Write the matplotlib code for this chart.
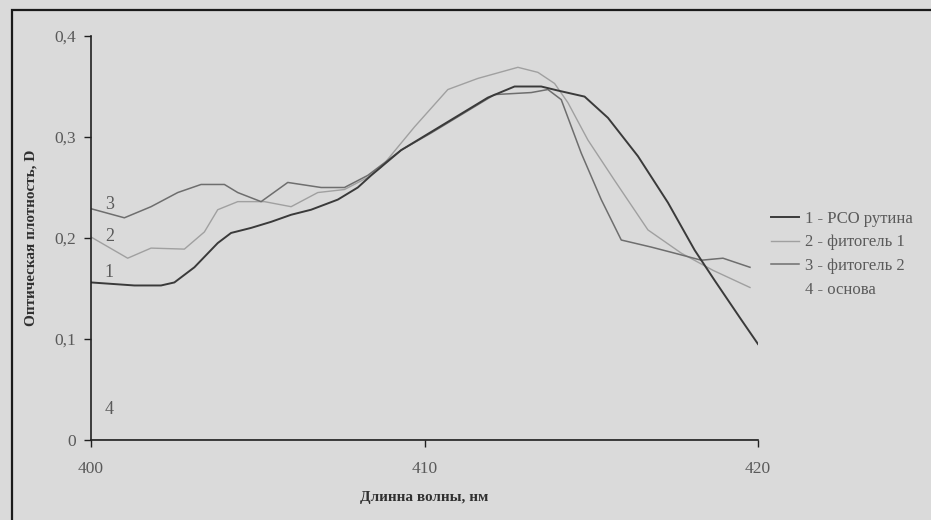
import matplotlib
matplotlib.use("Agg")
import matplotlib.pyplot as plt
from matplotlib.lines import Line2D
from matplotlib.patches import Rectangle

# ---- data ----
wl_1 = [400.0, 401.3, 402.1, 402.5, 403.1, 403.8, 404.2, 404.8, 405.4, 406.0, 406.6,
        407.4, 408.0, 408.4, 409.3, 410.2, 411.9, 412.7, 413.5, 414.0, 414.8, 415.5,
        416.4, 417.3, 418.1, 418.7, 419.5, 420.0]
d_1 = [0.156, 0.153, 0.153, 0.156, 0.171, 0.195, 0.205, 0.210, 0.216, 0.223, 0.228,
       0.238, 0.250, 0.262, 0.287, 0.305, 0.339, 0.350, 0.350, 0.346, 0.340, 0.319,
       0.281, 0.235, 0.188, 0.158, 0.119, 0.095]

wl_2 = [400.0, 401.1, 401.8, 402.8, 403.4, 403.8, 404.4, 405.2, 406.0, 406.8, 407.6,
        408.3, 408.7, 409.7, 410.7, 411.6, 412.8, 413.4, 413.9, 414.3, 414.9, 415.7,
        416.7, 417.7, 418.65, 419.76]
d_2 = [0.201, 0.180, 0.190, 0.189, 0.206, 0.228, 0.236, 0.236, 0.231, 0.245, 0.248,
       0.260, 0.270, 0.310, 0.347, 0.358, 0.369, 0.364, 0.353, 0.334, 0.297, 0.257,
       0.208, 0.185, 0.168, 0.151]

wl_3 = [400.0, 401.0, 401.8, 402.6, 403.3, 404.0, 404.4, 405.1, 405.9, 406.9, 407.6,
        408.3, 409.3, 410.2, 411.2, 412.1, 413.2, 413.7, 414.1, 414.7, 415.3, 415.9,
        416.8, 417.5, 418.3, 418.95, 419.76]
d_3 = [0.229, 0.220, 0.231, 0.245, 0.253, 0.253, 0.245, 0.236, 0.255, 0.250, 0.250,
       0.262, 0.287, 0.304, 0.324, 0.342, 0.344, 0.347, 0.337, 0.284, 0.238, 0.198,
       0.191, 0.185, 0.178, 0.180, 0.171]

wl_4 = [400.0, 420.0]
d_4 = [0.0, 0.0]

series_labels = ["1 - РСО рутина", "2 - фитогель 1", "3 - фитогель 2", "4 - основа"]
curve_numbers = ["1", "2", "3", "4"]
curve_number_y = [0.166, 0.201, 0.233, 0.030]

x_ticks = [400, 410, 420]
x_tick_labels = ["400", "410", "420"]
y_ticks = [0.0, 0.1, 0.2, 0.3, 0.4]
y_tick_labels = ["0", "0,1", "0,2", "0,3", "0,4"]

x_label = "Длинна волны, нм"
y_label = "Оптическая плотность, D"

# ---- styling ----
bg = "#dadada"
colors = ["#3a3a3a", "#a0a0a0", "#6e6e6e", "#3a3a3a"]
txt = "#5a5a5a"
serif = ["Liberation Serif", "DejaVu Serif"]

fig = plt.figure(figsize=(9.31, 5.20), dpi=100, facecolor=bg)
ax = fig.add_axes([91 / 931, 80 / 520, (758 - 91) / 931, (440 - 36) / 520])
ax.set_facecolor(bg)

# outer frame of the scanned chart
fig.patches.append(Rectangle((12 / 931, -0.05), 1.2, (510 / 520) + 0.05,
                             transform=fig.transFigure, fill=False,
                             edgecolor="#1a1a1a", linewidth=1.6))

ax.plot(wl_4, d_4, color=colors[3], linewidth=1.0)
ax.plot(wl_2, d_2, color=colors[1], linewidth=1.0)
ax.plot(wl_3, d_3, color=colors[2], linewidth=1.1)
ax.plot(wl_1, d_1, color=colors[0], linewidth=1.4)

ax.set_xlim(400, 420)
ax.set_ylim(0, 0.4)
ax.set_xticks(x_ticks)
ax.set_xticklabels(x_tick_labels)
ax.set_yticks(y_ticks)
ax.set_yticklabels(y_tick_labels)
for lbl in ax.get_xticklabels() + ax.get_yticklabels():
    lbl.set_fontfamily(serif)
    lbl.set_fontsize(12.5)
    lbl.set_color(txt)

ax.spines["top"].set_visible(False)
ax.spines["right"].set_visible(False)
ax.spines["left"].set_color("#202020")
ax.spines["bottom"].set_color("#202020")
ax.spines["left"].set_linewidth(1.2)
ax.spines["bottom"].set_linewidth(1.2)
ax.tick_params(axis="both", direction="out", length=5, width=1.0, color="#202020")
ax.tick_params(axis="x", pad=10)
ax.tick_params(axis="y", pad=6)

ax.set_xlabel(x_label, fontfamily=serif, fontweight="bold", fontsize=11,
              color="#303030", labelpad=10)
ax.set_ylabel(y_label, fontfamily=serif, fontweight="bold", fontsize=11,
              color="#303030", labelpad=12)

for num, yv in zip(curve_numbers, curve_number_y):
    ax.text(400.55, yv, num, fontfamily=serif, fontsize=13, color=txt,
            ha="center", va="center")

handles = [Line2D([], [], color=colors[0], linewidth=1.4),
           Line2D([], [], color=colors[1], linewidth=1.0),
           Line2D([], [], color=colors[2], linewidth=1.1),
           Line2D([], [], color=colors[3], linewidth=0, alpha=0)]
leg = fig.legend(handles, series_labels, loc="upper left",
                 bbox_to_anchor=(756 / 931, 1 - 196 / 520), frameon=False,
                 prop={"family": serif, "size": 12}, handlelength=1.7,
                 handletextpad=0.35, labelspacing=0.45)
for t in leg.get_texts():
    t.set_color(txt)

fig.savefig("out.png", dpi=100, facecolor=bg)
